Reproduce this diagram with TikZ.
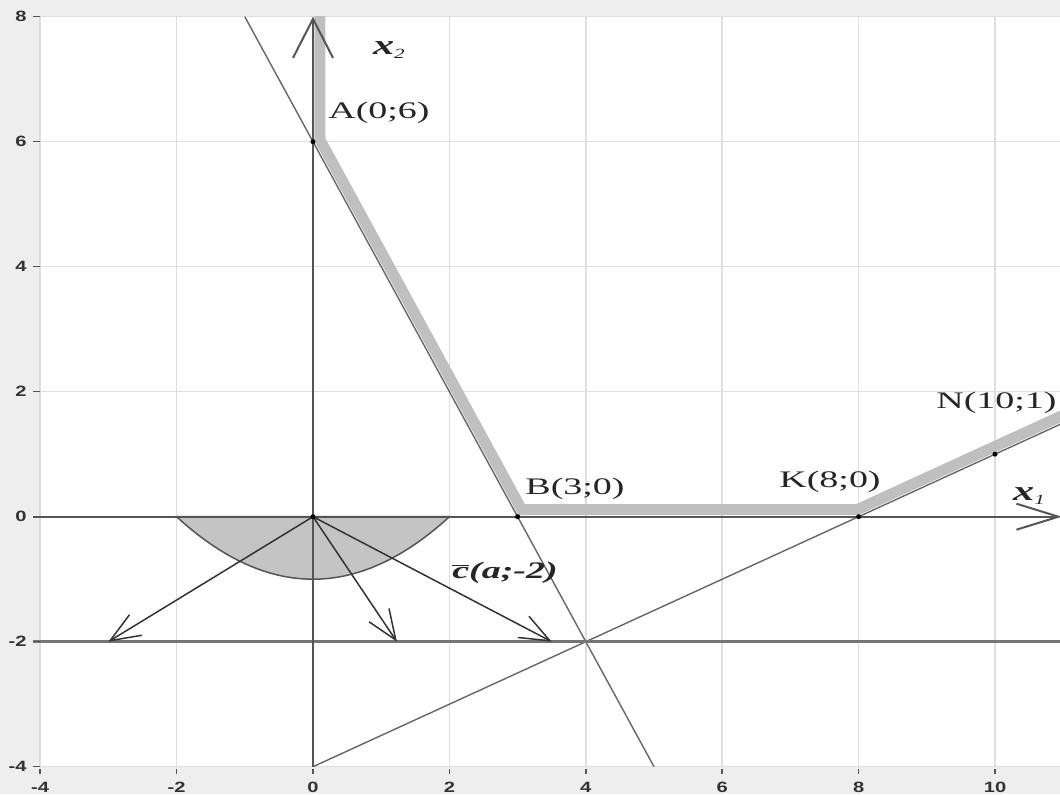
\documentclass[tikz,border=0pt]{standalone}
\usepackage{fontspec}
\setmainfont{Liberation Serif}
\newfontfamily\ticksf{Liberation Sans}
\usetikzlibrary{arrows.meta}
\definecolor{bggray}{HTML}{EEEEEE}
\definecolor{gridgray}{HTML}{DEDEDE}
\definecolor{bandgray}{HTML}{BFBFBF}
\definecolor{axisgray}{HTML}{555555}
\definecolor{thingray}{HTML}{666666}
\definecolor{fillgray}{HTML}{C4C4C4}
\definecolor{vecgray}{HTML}{333333}
\newcommand{\ptlbl}[1]{\scalebox{1.6}[1]{\fontsize{13.5pt}{14pt}\selectfont #1}}
\newcommand{\tlbl}[1]{\scalebox{1.35}[1]{\ticksf\bfseries\fontsize{8.5pt}{9pt}\selectfont #1}}
\tikzset{
  gridline/.style={draw=gridgray, line width=0.03cm},
  bandline/.style={draw=bandgray, line width=0.22cm, line join=miter},
  thinline/.style={draw=thingray, line width=0.028cm},
  axisline/.style={draw=axisgray, line width=0.04cm},
  hline/.style={draw=thingray!90, line width=0.05cm},
  vecarrow/.style={draw=vecgray, line width=0.03cm, -{Straight Barb[length=0.6cm,width=0.48cm]}},
  parab/.style={draw=axisgray, fill=fillgray, line width=0.03cm},
  dotmark/.style={fill=black},
  ticklabel/.style={inner sep=0pt, text=black!80},
  ptlabel/.style={inner sep=0pt, text=black!85},
  tickmark/.style={draw=axisgray, line width=0.03cm}
}
\begin{document}
\begin{tikzpicture}[x=1.364cm, y=1.25cm]
\useasboundingbox (-4.5894,-4.4368) rectangle (10.9531,8.2672);
\fill[bggray] (-4.5894,-4.4368) rectangle (10.9531,8.2672);
\fill[white] (-4,-4) rectangle (10.9531,8);

% coordinates
\coordinate (O) at (0,0);
\coordinate (A) at (0,6);
\coordinate (B) at (3,0);
\coordinate (K) at (8,0);
\coordinate (N) at (10,1);
\coordinate (C1) at (-3,-2);
\coordinate (C2) at (1.23,-2);
\coordinate (C3) at (3.5,-2);
\coordinate (Ytop) at (0,8);
\coordinate (Ybot) at (0,-4);
\coordinate (Xl) at (-4.105,0);
\coordinate (Xr) at (10.98,0);
\coordinate (Hl) at (-4.105,-2);
\coordinate (Hr) at (10.9531,-2);
\coordinate (L1a) at (-1,8);
\coordinate (L1b) at (5,-4);
\coordinate (L2a) at (0,-4);
\coordinate (L2b) at (10.9531,1.4766);

% grid
\foreach \gx in {-4,-2,2,4,6,8,10} \draw[gridline] (\gx,-4) -- (\gx,8);
\foreach \gy in {-4,2,4,6,8} \draw[gridline] (-4,\gy) -- (10.9531,\gy);

% feasible boundary band
\begin{scope}
\clip (-4,-4) rectangle (10.9531,8);
\draw[bandline] (0.1026,8.2) -- (0.1026,6.029) -- (3.060,0.112) -- (7.977,0.112) -- (11.1,1.674);
\draw[thinline] (L1a) -- (L1b);
\draw[thinline] (L2a) -- (L2b);
\end{scope}

% parabola region
\draw[parab] plot[domain=-2:2,samples=80,smooth] (\x,{\x*\x/4-1}) -- cycle;

% axes and horizontal line
\draw[hline] (Hl) -- (Hr);
\draw[axisline, -{Straight Barb[length=0.84cm,width=0.52cm]}] (Xl) -- (Xr);
\draw[axisline, -{Straight Barb[length=0.78cm,width=0.8cm]}] (Ybot) -- (Ytop);

% vectors
\draw[vecarrow] (O) -- (C1);
\draw[vecarrow] (O) -- (C2);
\draw[vecarrow] (O) -- (C3);

% points
\foreach \p in {O,A,B,K,N} \fill[dotmark] (\p) circle (0.05cm);

% tick marks and labels on the left
\foreach \ty in {8,6,4,2,0,-2,-4} {
  \draw[tickmark] (-4.105,\ty) -- (-4.0,\ty);
}
\node[ticklabel, anchor=east] (ty8) at (-4.194,8) {\tlbl{8}};
\node[ticklabel, anchor=east] (ty6) at (-4.194,6) {\tlbl{6}};
\node[ticklabel, anchor=east] (ty4) at (-4.194,4) {\tlbl{4}};
\node[ticklabel, anchor=east] (ty2) at (-4.194,2) {\tlbl{2}};
\node[ticklabel, anchor=east] (ty0) at (-4.194,0) {\tlbl{0}};
\node[ticklabel, anchor=east] (tym2) at (-4.194,-2) {\tlbl{-2}};
\node[ticklabel, anchor=east] (tym4) at (-4.194,-4) {\tlbl{-4}};

% tick marks and labels at the bottom
\foreach \tx in {-4,-2,0,2,4,6,8,10} {
  \draw[tickmark] (\tx,-4.04) -- (\tx,-4.12);
}
\node[ticklabel] (txm4) at (-4,-4.33) {\tlbl{-4}};
\node[ticklabel] (txm2) at (-2,-4.33) {\tlbl{-2}};
\node[ticklabel] (tx0) at (0,-4.33) {\tlbl{0}};
\node[ticklabel] (tx2) at (2,-4.33) {\tlbl{2}};
\node[ticklabel] (tx4) at (4,-4.33) {\tlbl{4}};
\node[ticklabel] (tx6) at (6,-4.33) {\tlbl{6}};
\node[ticklabel] (tx8) at (8,-4.33) {\tlbl{8}};
\node[ticklabel] (tx10) at (10,-4.33) {\tlbl{10}};

% point labels
\node[ptlabel] (lA) at (0.968,6.459) {\ptlbl{A(0;6)}};
\node[ptlabel] (lB) at (3.842,0.443) {\ptlbl{B(3;0)}};
\node[ptlabel] (lK) at (7.581,0.563) {\ptlbl{K(8;0)}};
\node[ptlabel] (lN) at (10.022,1.819) {\ptlbl{N(10;1)}};
\node[ptlabel] (lc) at (2.815,-0.901) {\ptlbl{\bfseries\itshape $\overline{\hbox{\bfseries\itshape c}}$(a;-2)}};
\node[ptlabel] (lx2) at (1.114,7.467) {\scalebox{1.5}[1]{\fontsize{16pt}{17pt}\selectfont\bfseries\itshape x\raisebox{-0.25ex}{\fontsize{8pt}{9pt}\selectfont\mdseries 2}}};
\node[ptlabel] (lx1) at (10.499,0.331) {\scalebox{1.5}[1]{\fontsize{16pt}{17pt}\selectfont\bfseries\itshape x\raisebox{-0.25ex}{\fontsize{8pt}{9pt}\selectfont\mdseries 1}}};
\end{tikzpicture}
\end{document}
